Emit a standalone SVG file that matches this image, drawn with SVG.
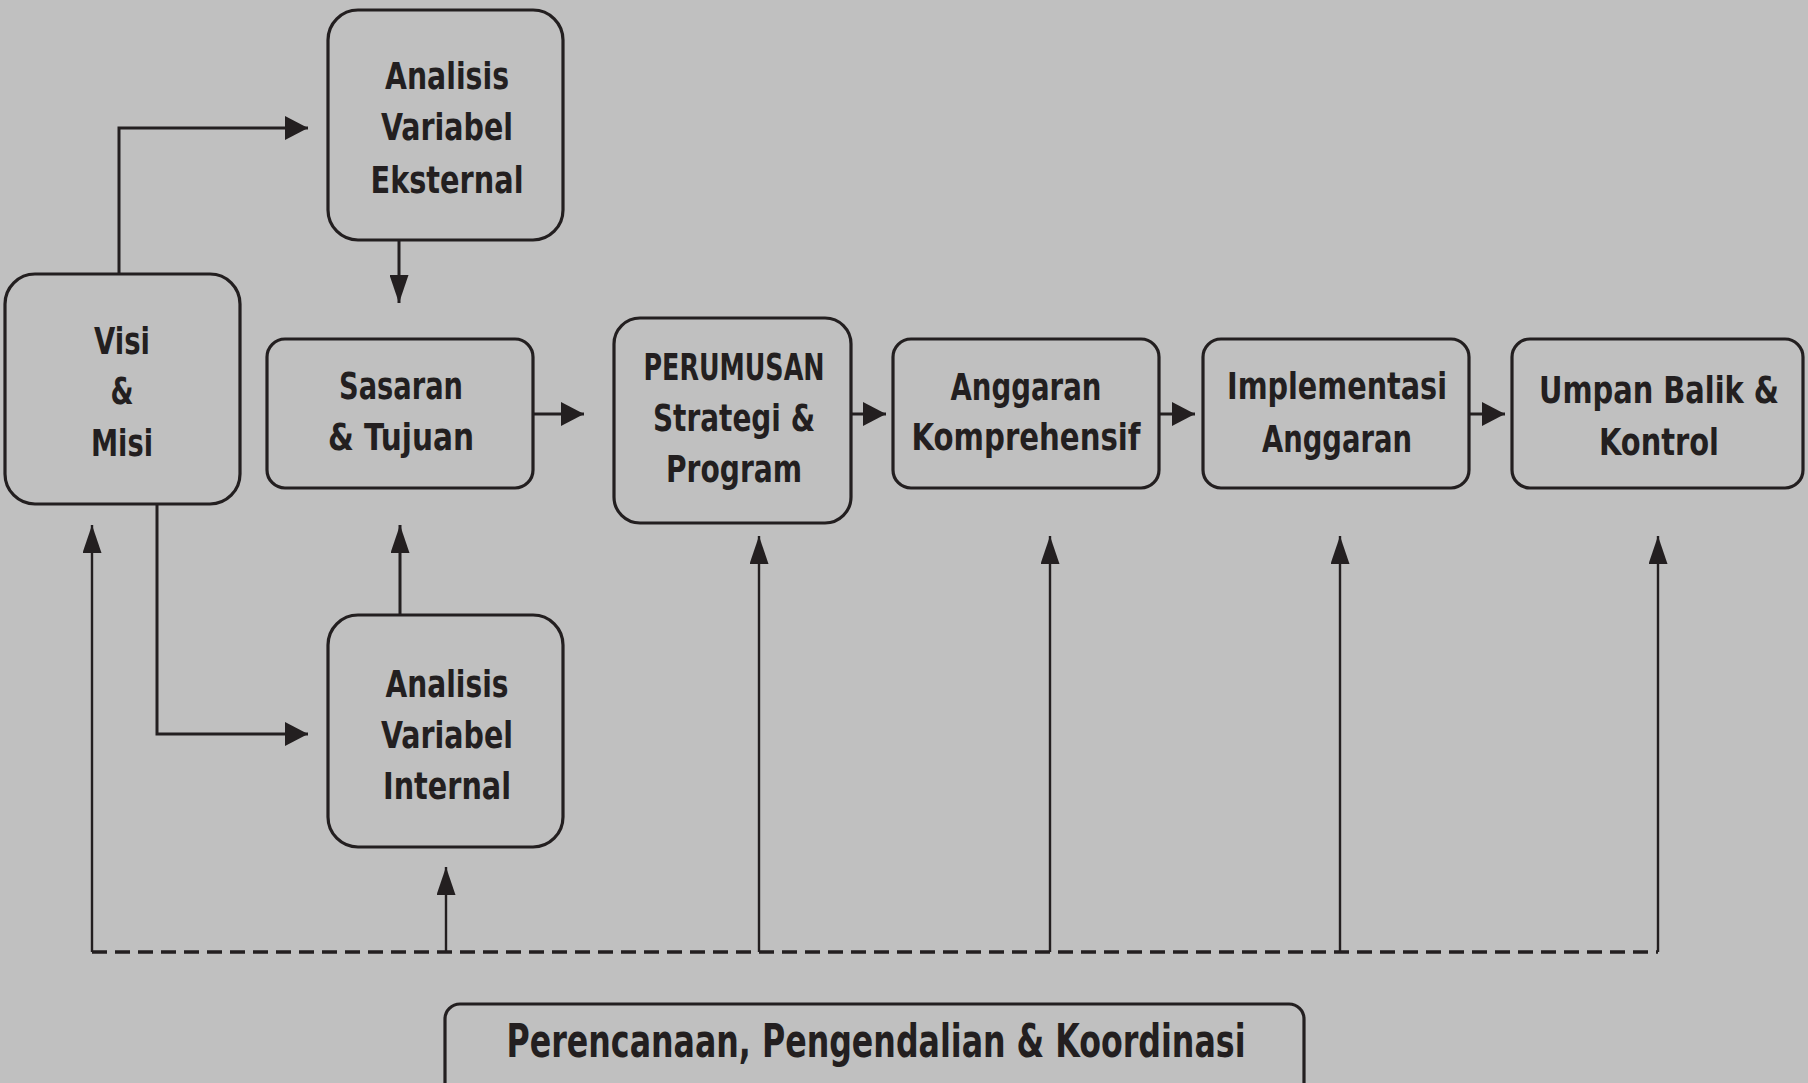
<svg xmlns="http://www.w3.org/2000/svg" width="1808" height="1083" viewBox="0 0 1808 1083">
<style>
.bg{fill:#c0c0c0}
.box{fill:none;stroke:#231f20;stroke-width:3.2}
.t{font-family:"DejaVu Sans Condensed","DejaVu Sans",sans-serif;font-weight:bold;font-size:38px;fill:#231f20;text-anchor:middle}
.tb{font-family:"DejaVu Sans Condensed","DejaVu Sans",sans-serif;font-weight:bold;font-size:46px;fill:#231f20;text-anchor:middle}
.c{fill:none;stroke:#231f20;stroke-width:3}
.c2{fill:none;stroke:#231f20;stroke-width:2.4}
.d{fill:none;stroke:#231f20;stroke-width:3.4;stroke-dasharray:15 8}
</style>
<defs>
<marker id="ah" viewBox="0 0 23 24" refX="23" refY="12" markerWidth="23" markerHeight="24" orient="auto" markerUnits="userSpaceOnUse"><path d="M0,0 L23,12 L0,24 z" fill="#231f20"/></marker>
<marker id="av" viewBox="0 0 28 19" refX="28" refY="9.5" markerWidth="28" markerHeight="19" orient="auto" markerUnits="userSpaceOnUse"><path d="M0,0 L28,9.5 L0,19 z" fill="#231f20"/></marker>
</defs>
<rect class="bg" x="0" y="0" width="1808" height="1083"/>

<g id="connectors">
<polyline class="c" points="119,274 119,128 308,128" marker-end="url(#ah)"/>
<line class="c" x1="399" y1="240" x2="399" y2="303" marker-end="url(#av)"/>
<line class="c" x1="533" y1="414" x2="584" y2="414" marker-end="url(#ah)"/>
<line class="c" x1="851" y1="414" x2="886" y2="414" marker-end="url(#ah)"/>
<line class="c" x1="1159" y1="414" x2="1195" y2="414" marker-end="url(#ah)"/>
<line class="c" x1="1469" y1="414" x2="1505" y2="414" marker-end="url(#ah)"/>
<polyline class="c" points="157,504 157,734 308,734" marker-end="url(#ah)"/>
<line class="c" x1="400" y1="615" x2="400" y2="525" marker-end="url(#av)"/>
<line class="d" x1="92" y1="952" x2="1658" y2="952"/>
<line class="c2" x1="92" y1="952" x2="92" y2="525" marker-end="url(#av)"/>
<line class="c2" x1="446" y1="952" x2="446" y2="867" marker-end="url(#av)"/>
<line class="c2" x1="759" y1="952" x2="759" y2="536" marker-end="url(#av)"/>
<line class="c2" x1="1050" y1="952" x2="1050" y2="536" marker-end="url(#av)"/>
<line class="c2" x1="1340" y1="952" x2="1340" y2="536" marker-end="url(#av)"/>
<line class="c2" x1="1658" y1="952" x2="1658" y2="536" marker-end="url(#av)"/>
</g>

<g id="eksternal">
<rect class="box" x="328" y="10" width="235" height="230" rx="30"/>
<text class="t" x="447" y="89" textLength="124" lengthAdjust="spacingAndGlyphs">Analisis</text>
<text class="t" x="447" y="140" textLength="132" lengthAdjust="spacingAndGlyphs">Variabel</text>
<text class="t" x="447" y="193" textLength="153" lengthAdjust="spacingAndGlyphs">Eksternal</text>
</g>

<g id="visi">
<rect class="box" x="5" y="274" width="235" height="230" rx="30"/>
<text class="t" x="122" y="354" textLength="56" lengthAdjust="spacingAndGlyphs">Visi</text>
<text class="t" x="122" y="404" textLength="23" lengthAdjust="spacingAndGlyphs">&amp;</text>
<text class="t" x="122" y="456" textLength="62" lengthAdjust="spacingAndGlyphs">Misi</text>
</g>

<g id="sasaran">
<rect class="box" x="267" y="339" width="266" height="149" rx="18"/>
<text class="t" x="401" y="399" textLength="124" lengthAdjust="spacingAndGlyphs">Sasaran</text>
<text class="t" x="401" y="450" textLength="146" lengthAdjust="spacingAndGlyphs">&amp; Tujuan</text>
</g>

<g id="perumusan">
<rect class="box" x="614" y="318" width="237" height="205" rx="26"/>
<text class="t" x="734" y="380" textLength="181" lengthAdjust="spacingAndGlyphs">PERUMUSAN</text>
<text class="t" x="734" y="431" textLength="162" lengthAdjust="spacingAndGlyphs">Strategi &amp;</text>
<text class="t" x="734" y="482" textLength="136" lengthAdjust="spacingAndGlyphs">Program</text>
</g>

<g id="anggaran">
<rect class="box" x="893" y="339" width="266" height="149" rx="18"/>
<text class="t" x="1026" y="400" textLength="151" lengthAdjust="spacingAndGlyphs">Anggaran</text>
<text class="t" x="1026" y="450" textLength="229" lengthAdjust="spacingAndGlyphs">Komprehensif</text>
</g>

<g id="implementasi">
<rect class="box" x="1203" y="339" width="266" height="149" rx="18"/>
<text class="t" x="1337" y="399" textLength="220" lengthAdjust="spacingAndGlyphs">Implementasi</text>
<text class="t" x="1337" y="452" textLength="150" lengthAdjust="spacingAndGlyphs">Anggaran</text>
</g>

<g id="umpan">
<rect class="box" x="1512" y="339" width="291" height="149" rx="18"/>
<text class="t" x="1659" y="403" textLength="240" lengthAdjust="spacingAndGlyphs">Umpan Balik &amp;</text>
<text class="t" x="1659" y="455" textLength="120" lengthAdjust="spacingAndGlyphs">Kontrol</text>
</g>

<g id="internal">
<rect class="box" x="328" y="615" width="235" height="232" rx="30"/>
<text class="t" x="447" y="697" textLength="123" lengthAdjust="spacingAndGlyphs">Analisis</text>
<text class="t" x="447" y="748" textLength="132" lengthAdjust="spacingAndGlyphs">Variabel</text>
<text class="t" x="447" y="799" textLength="128" lengthAdjust="spacingAndGlyphs">Internal</text>
</g>

<g id="perencanaan">
<rect class="box" x="445" y="1004" width="859" height="100" rx="15"/>
<text class="tb" x="876" y="1057" textLength="739" lengthAdjust="spacingAndGlyphs">Perencanaan, Pengendalian &amp; Koordinasi</text>
</g>
</svg>
